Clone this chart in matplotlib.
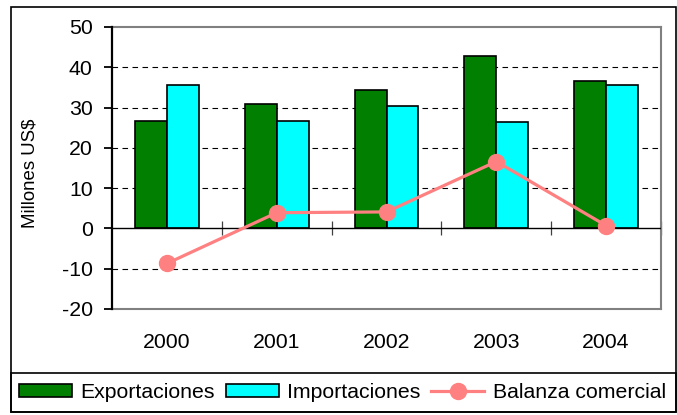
import matplotlib.pyplot as plt
from matplotlib.patches import Rectangle
import numpy as np

plt.rcParams['font.family'] = ['Liberation Sans', 'DejaVu Sans']
plt.rcParams['axes.unicode_minus'] = False

years = ['2000', '2001', '2002', '2003', '2004']
exportaciones = [26.7, 30.8, 34.3, 42.8, 36.5]
importaciones = [35.7, 26.7, 30.3, 26.3, 35.6]
balanza = [-8.7, 3.9, 4.1, 16.6, 0.7]

W, H = 677, 415
fig = plt.figure(figsize=(W / 100, H / 100), dpi=100)
ax = fig.add_axes([112 / W, 1 - 309 / H, 549 / W, 282 / H])

x = np.arange(len(years))
bw = 0.29
b1 = ax.bar(x - bw / 2, exportaciones, bw, color='#007F00', edgecolor='black',
            linewidth=1.2, label='Exportaciones', zorder=3)
b2 = ax.bar(x + bw / 2, importaciones, bw, color='#00FFFF', edgecolor='black',
            linewidth=1.2, label='Importaciones', zorder=3)
ln, = ax.plot(x, balanza, color='#FF8080', linewidth=2.3, marker='o', markersize=11.5,
              label='Balanza comercial', zorder=5)

ax.set_xlim(-0.5, 4.5)
ax.set_ylim(-20, 50)
ax.set_yticks(range(-20, 51, 10))
for v in [-10, 10, 20, 30, 40]:
    ax.axhline(v, color='black', linewidth=0.8, dashes=(5, 4), zorder=1)
ax.axhline(0, color='black', linewidth=1.0, zorder=4)

for s in ['top', 'right', 'bottom']:
    ax.spines[s].set_color('#808080')
    ax.spines[s].set_linewidth(1.5)
ax.spines['left'].set_linewidth(1.6)
ax.spines['left'].set_zorder(6)

ax.tick_params(axis='y', direction='out', length=6, width=1.3, pad=8, labelsize=15.3)
ax.set_xticks(x, years)
ax.tick_params(axis='x', length=0, pad=17, labelsize=15.3)

# category boundary ticks on the zero line
sec = ax.secondary_xaxis(20 / 70)
sec.set_xticks(np.arange(0.5, 4.6, 1.0))
sec.set_xticklabels([])
sec.tick_params(direction='inout', length=10, width=0.9, color='#404040')
sec.spines['bottom'].set_visible(False)
sec.spines['top'].set_visible(False)

ax.set_ylabel('Millones US$', fontsize=13.4)
ax.yaxis.set_label_coords((38 - 112) / 549, (309 - 173) / 282)

# outer frame and legend box
fig.add_artist(Rectangle((11 / W, 1 - 412 / H), 665 / W, 405 / H, transform=fig.transFigure,
                         fill=False, edgecolor='black', linewidth=1.2))
fig.add_artist(Rectangle((11 / W, 1 - 412 / H), 665 / W, 39 / H, transform=fig.transFigure,
                         fill=False, edgecolor='black', linewidth=1.2))

fig.legend([b1, b2, ln], ['Exportaciones', 'Importaciones', 'Balanza comercial'],
           loc='center', bbox_to_anchor=(342.5 / W, 1 - 392.5 / H),
           ncol=3, frameon=False, fontsize=15.3, handlelength=2.5, handleheight=0.6,
           handletextpad=0.4, columnspacing=0.5, borderpad=0)

fig.savefig('out.png', dpi=100)
